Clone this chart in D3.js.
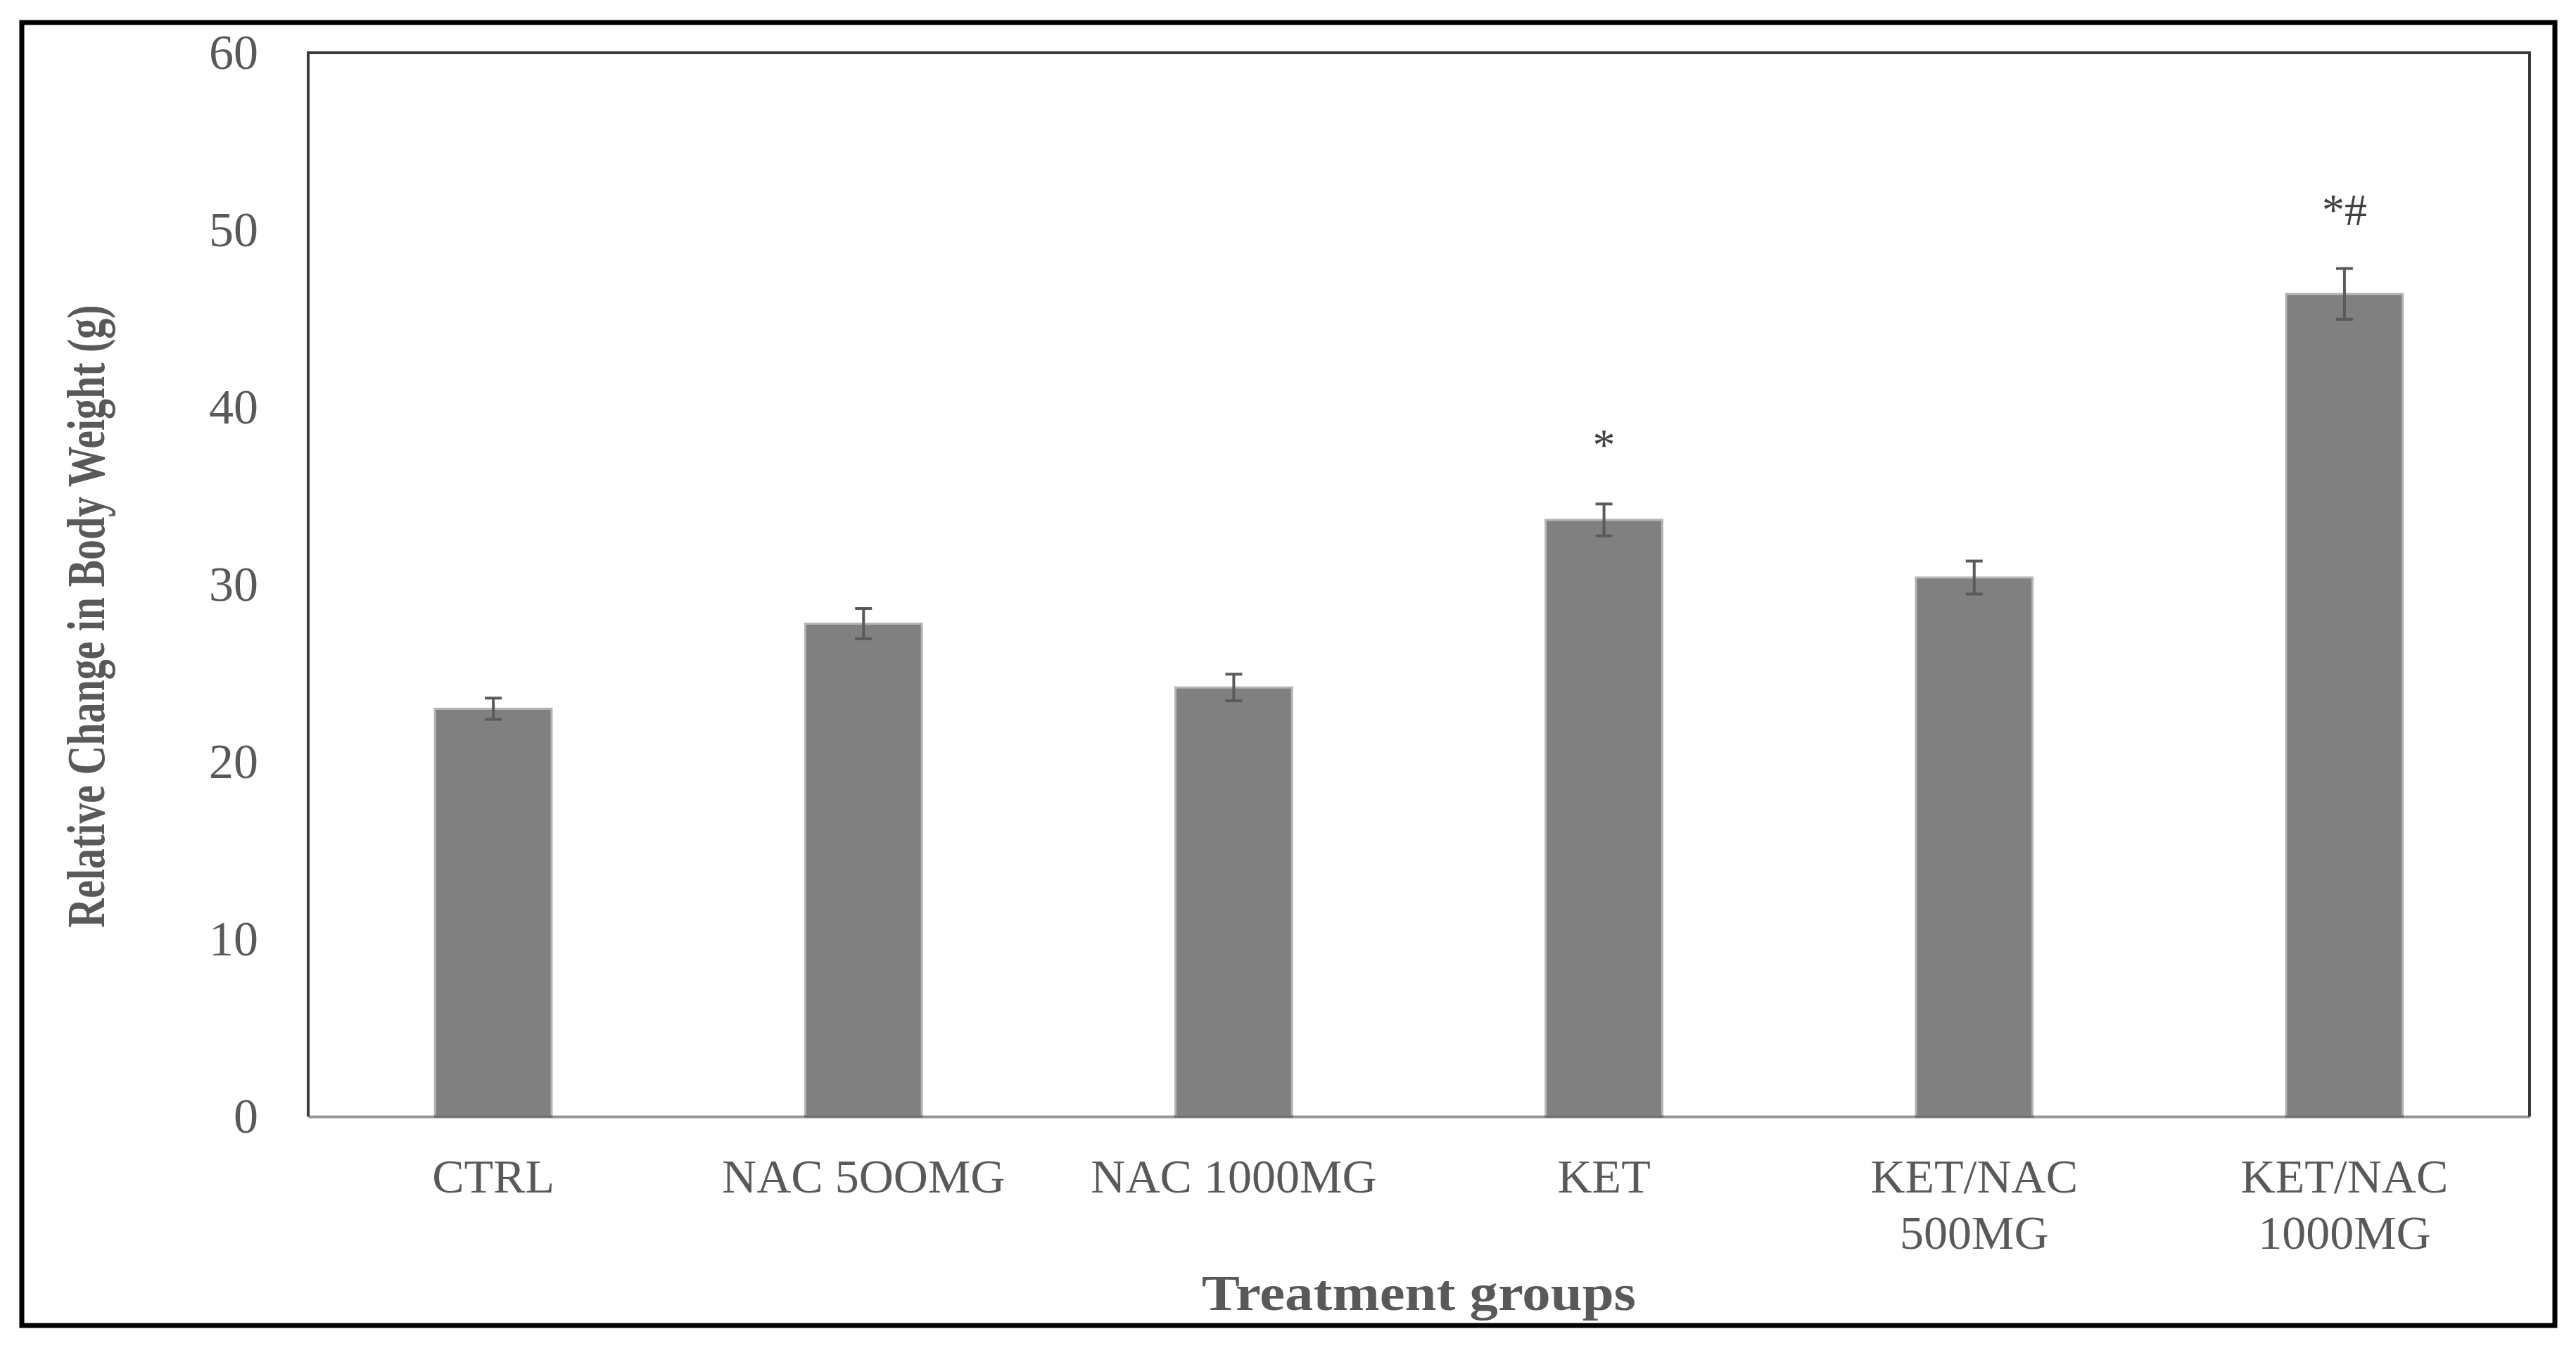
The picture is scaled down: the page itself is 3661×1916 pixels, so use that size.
<!DOCTYPE html>
<html>

<head>
    <script src="https://d3js.org/d3.v7.min.js"></script>
    <style>
        body { margin: 0; background: #fff; }
    </style>
</head>

<body>
    <div id="my_dataviz"></div>
    <script>
        // data
        var groups = ["CTRL", "NAC 5OOMG", "NAC 1000MG", "KET", "KET/NAC 500MG", "KET/NAC 1000MG"];
        var tickLabels = [["CTRL"], ["NAC 5OOMG"], ["NAC 1000MG"], ["KET"], ["KET/NAC", "500MG"], ["KET/NAC", "1000MG"]];
        var means = [23.0, 27.8, 24.2, 33.65, 30.4, 46.4];
        var errors = [0.6, 0.85, 0.75, 0.9, 0.93, 1.43];
        var marks = ["", "", "", "*", "", "*#"];
        var yTicks = [0, 10, 20, 30, 40, 50, 60];

        var data = groups.map(function (g, i) {
            return { group: g, mean: means[i], err: errors[i], mark: marks[i] };
        });

        // set the dimensions and margins of the graph
        var margin = { top: 75, right: 66, bottom: 329, left: 438 },
            width = 3661 - margin.left - margin.right,
            height = 1916 - margin.top - margin.bottom;

        var root = d3.select("#my_dataviz")
            .append("svg")
            .attr("width", 3661)
            .attr("height", 1916);

        // outer black frame
        root.append("rect")
            .attr("x", 31)
            .attr("y", 32)
            .attr("width", 3600)
            .attr("height", 1852)
            .attr("fill", "none")
            .attr("stroke", "#000")
            .attr("stroke-width", 7);

        var svg = root.append("g")
            .attr("transform", "translate(" + margin.left + "," + margin.top + ")");

        var x = d3.scaleBand()
            .domain(groups)
            .range([0, width])
            .paddingInner(0.685)
            .paddingOuter(0.3425);

        var y = d3.scaleLinear()
            .domain([0, 60])
            .range([height, 0]);

        // Y axis
        var yAxis = svg.append("g")
            .call(d3.axisLeft(y).tickValues(yTicks).tickSize(0).tickPadding(71));
        yAxis.select(".domain").remove();
        yAxis.selectAll("text")
            .style("font-family", "'Liberation Serif', serif")
            .style("font-size", "70px")
            .attr("fill", "#595959");

        // bars
        svg.selectAll(".bar")
            .data(data)
            .enter()
            .append("rect")
            .attr("class", "bar")
            .attr("x", function (d) { return x(d.group); })
            .attr("width", x.bandwidth())
            .attr("y", function (d) { return y(d.mean); })
            .attr("height", function (d) { return height - y(d.mean); })
            .attr("fill", "#808080")
            .attr("stroke", "#b5b5b5")
            .attr("stroke-width", 3);

        // error bars
        var eb = svg.selectAll(".err")
            .data(data)
            .enter()
            .append("g")
            .attr("class", "err")
            .attr("transform", function (d) { return "translate(" + (x(d.group) + x.bandwidth() / 2) + ",0)"; })
            .attr("stroke", "#5a5a5a")
            .attr("stroke-width", 4);
        eb.append("line")
            .attr("y1", function (d) { return y(d.mean + d.err); })
            .attr("y2", function (d) { return y(d.mean - d.err); });
        eb.append("line")
            .attr("x1", -12).attr("x2", 12)
            .attr("y1", function (d) { return y(d.mean + d.err); })
            .attr("y2", function (d) { return y(d.mean + d.err); });
        eb.append("line")
            .attr("x1", -12).attr("x2", 12)
            .attr("y1", function (d) { return y(d.mean - d.err); })
            .attr("y2", function (d) { return y(d.mean - d.err); });

        // significance marks
        svg.selectAll(".mark")
            .data(data.filter(function (d) { return d.mark; }))
            .enter()
            .append("text")
            .attr("class", "mark")
            .attr("x", function (d) { return x(d.group) + x.bandwidth() / 2; })
            .attr("y", function (d) { return y(d.mean + d.err) - 62; })
            .attr("text-anchor", "middle")
            .style("font-family", "'Liberation Serif', serif")
            .style("font-size", "64px")
            .attr("fill", "#404040")
            .text(function (d) { return d.mark; });

        // X axis (categories), line drawn over the bars
        var xAxis = svg.append("g")
            .attr("transform", "translate(0," + height + ")")
            .call(d3.axisBottom(x).tickSize(0));
        xAxis.select(".domain")
            .attr("stroke", "#000")
            .attr("stroke-opacity", 0.4)
            .attr("stroke-width", 4);
        xAxis.selectAll(".tick text")
            .each(function (d, i) {
                var t = d3.select(this);
                t.text("").attr("dy", null).attr("y", null);
                tickLabels[i].forEach(function (line, j) {
                    t.append("tspan")
                        .attr("x", 0)
                        .attr("y", 108 + j * 80)
                        .text(line);
                });
            })
            .style("font-family", "'Liberation Serif', serif")
            .style("font-size", "68px")
            .attr("fill", "#595959");

        // plot frame (left, top, right)
        svg.append("path")
            .attr("d", "M0," + height + "V0H" + width + "V" + height)
            .attr("fill", "none")
            .attr("stroke", "#3a3a3a")
            .attr("stroke-width", 4);

        // axis titles
        svg.append("text")
            .attr("transform", "translate(" + (148 - margin.left) + "," + (876 - margin.top) + ") rotate(-90)")
            .attr("text-anchor", "middle")
            .attr("textLength", 885)
            .attr("lengthAdjust", "spacingAndGlyphs")
            .style("font-family", "'Liberation Serif', serif")
            .style("font-weight", "bold")
            .style("font-size", "76px")
            .attr("fill", "#595959")
            .text("Relative Change in Body Weight (g)");

        svg.append("text")
            .attr("x", width / 2)
            .attr("y", 1862 - margin.top)
            .attr("text-anchor", "middle")
            .attr("textLength", 617)
            .attr("lengthAdjust", "spacingAndGlyphs")
            .style("font-family", "'Liberation Serif', serif")
            .style("font-weight", "bold")
            .style("font-size", "71px")
            .attr("fill", "#595959")
            .text("Treatment groups");
    </script>
</body>

</html>
